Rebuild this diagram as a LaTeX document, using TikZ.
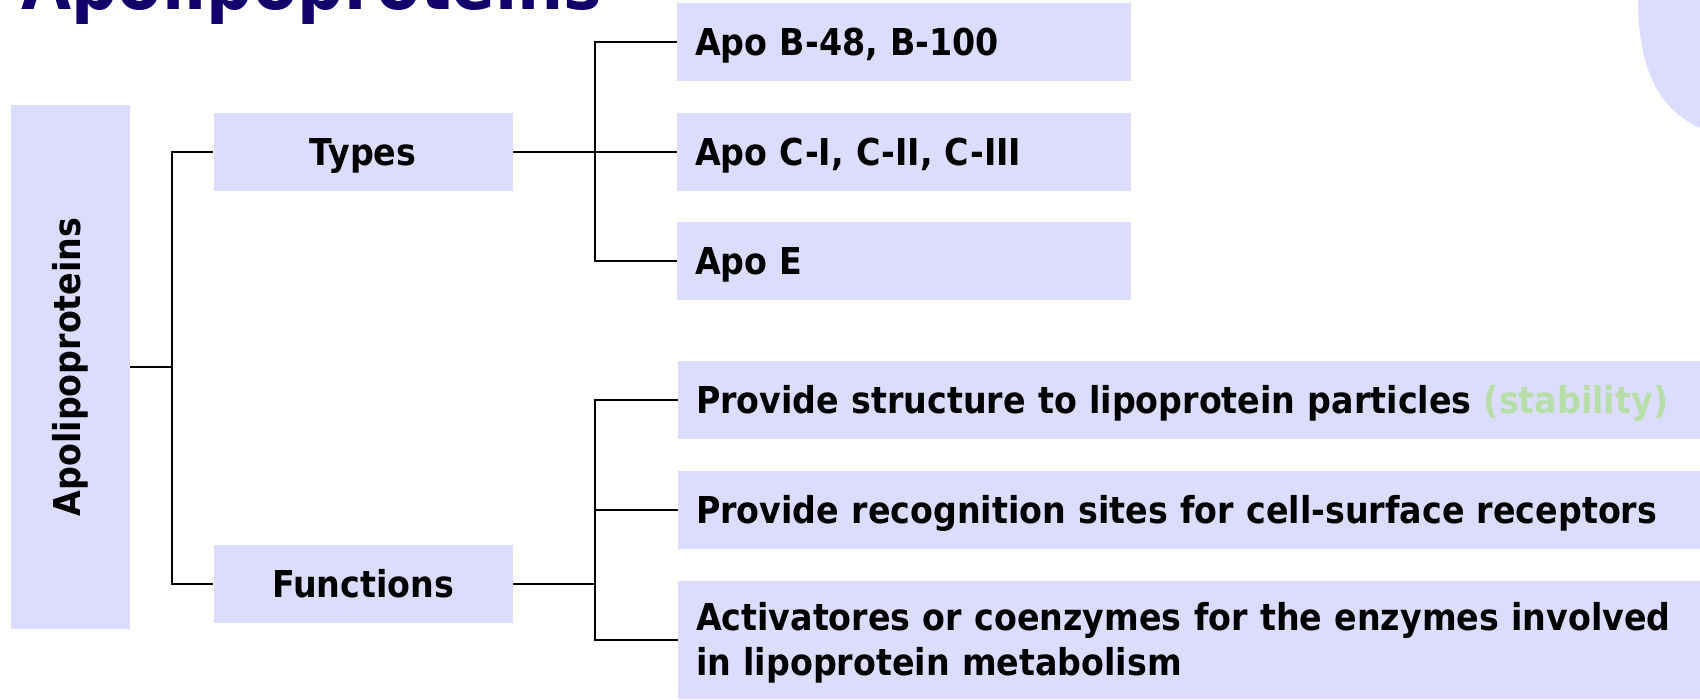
\documentclass[tikz,border=0pt]{standalone}
\usepackage{fontspec}
\setmainfont{DejaVu Sans}[FakeStretch=0.9]
\definecolor{boxfill}{RGB}{220,221,254}
\definecolor{titleblue}{RGB}{20,0,106}
\definecolor{softgreen}{RGB}{183,222,168}

\begin{document}
\begin{tikzpicture}[x=0.5pt,y=-0.5pt,
  box/.style={fill=boxfill, draw=none, inner sep=0pt,
    font=\fontsize{18.5}{22.5}\selectfont\bfseries},
  midbox/.style={box, minimum width=149.5pt, minimum height=39pt,
    text height=13.5pt, text depth=0pt},
  leafbox/.style={box, minimum height=39pt, inner xsep=9pt, align=left,
    text height=13.5pt, text depth=0pt},
  typebox/.style={leafbox, text width=209pt},
  funcbox/.style={leafbox, text width=493pt},
  link/.style={draw=black, line width=1pt}]

\useasboundingbox (0,0) rectangle (1700,700);
\clip (0,0) rectangle (1700,700);

% decorative corner shape
\fill[boxfill] (1638,0) .. controls (1638,70) and (1660,110) .. (1700,128)
  -- (1700,0) -- cycle;

% heading, partly cut by the top edge
\node[anchor=base west, inner sep=0pt, text=titleblue,
  font=\fontsize{36}{36}\selectfont\bfseries] (title) at (21,10) {Apolipoproteins};

% root
\node[box, minimum width=59.5pt, minimum height=261.5pt] (root) at (70,367)
  {\rotatebox{90}{Apolipoproteins}};

% second level
\node[midbox] (types) at (363,152) {Types};
\node[midbox] (func) at (363,584) {Functions};

% types
\node[typebox] (apob) at (904,42) {Apo B-48, B-100};
\node[typebox] (apoc) at (904,152) {Apo C-I, C-II, C-III};
\node[typebox] (apoe) at (904,261) {Apo E};

% functions
\node[funcbox] (f1) at (1189,400)
  {\mbox{Provide structure to lipoprotein particles {\color{softgreen}(stability)}}};
\node[funcbox] (f2) at (1189,510)
  {\mbox{Provide recognition sites for cell-surface receptors}};
\node[box, minimum height=59pt, inner xsep=9pt, text width=493pt, align=left,
  text height=17pt] (f3) at (1189,640)
  {\mbox{Activatores or coenzymes for the enzymes involved}\\in lipoprotein metabolism};

% connectors
\draw[link] (root.east) -- ++(42,0) coordinate (rj);
\draw[link] (rj) |- (types.west);
\draw[link] (rj) |- (func.west);

\draw[link] (types.east) -- ++(82,0) coordinate (tj);
\draw[link] (tj) |- (apob.west);
\draw[link] (tj) |- (apoc.west);
\draw[link] (tj) |- (apoe.west);

\draw[link] (func.east) -- ++(82,0) coordinate (fj);
\draw[link] (fj) |- (f1.west);
\draw[link] (fj) |- (f2.west);
\draw[link] (fj) |- (f3.west);
\end{tikzpicture}
\end{document}
